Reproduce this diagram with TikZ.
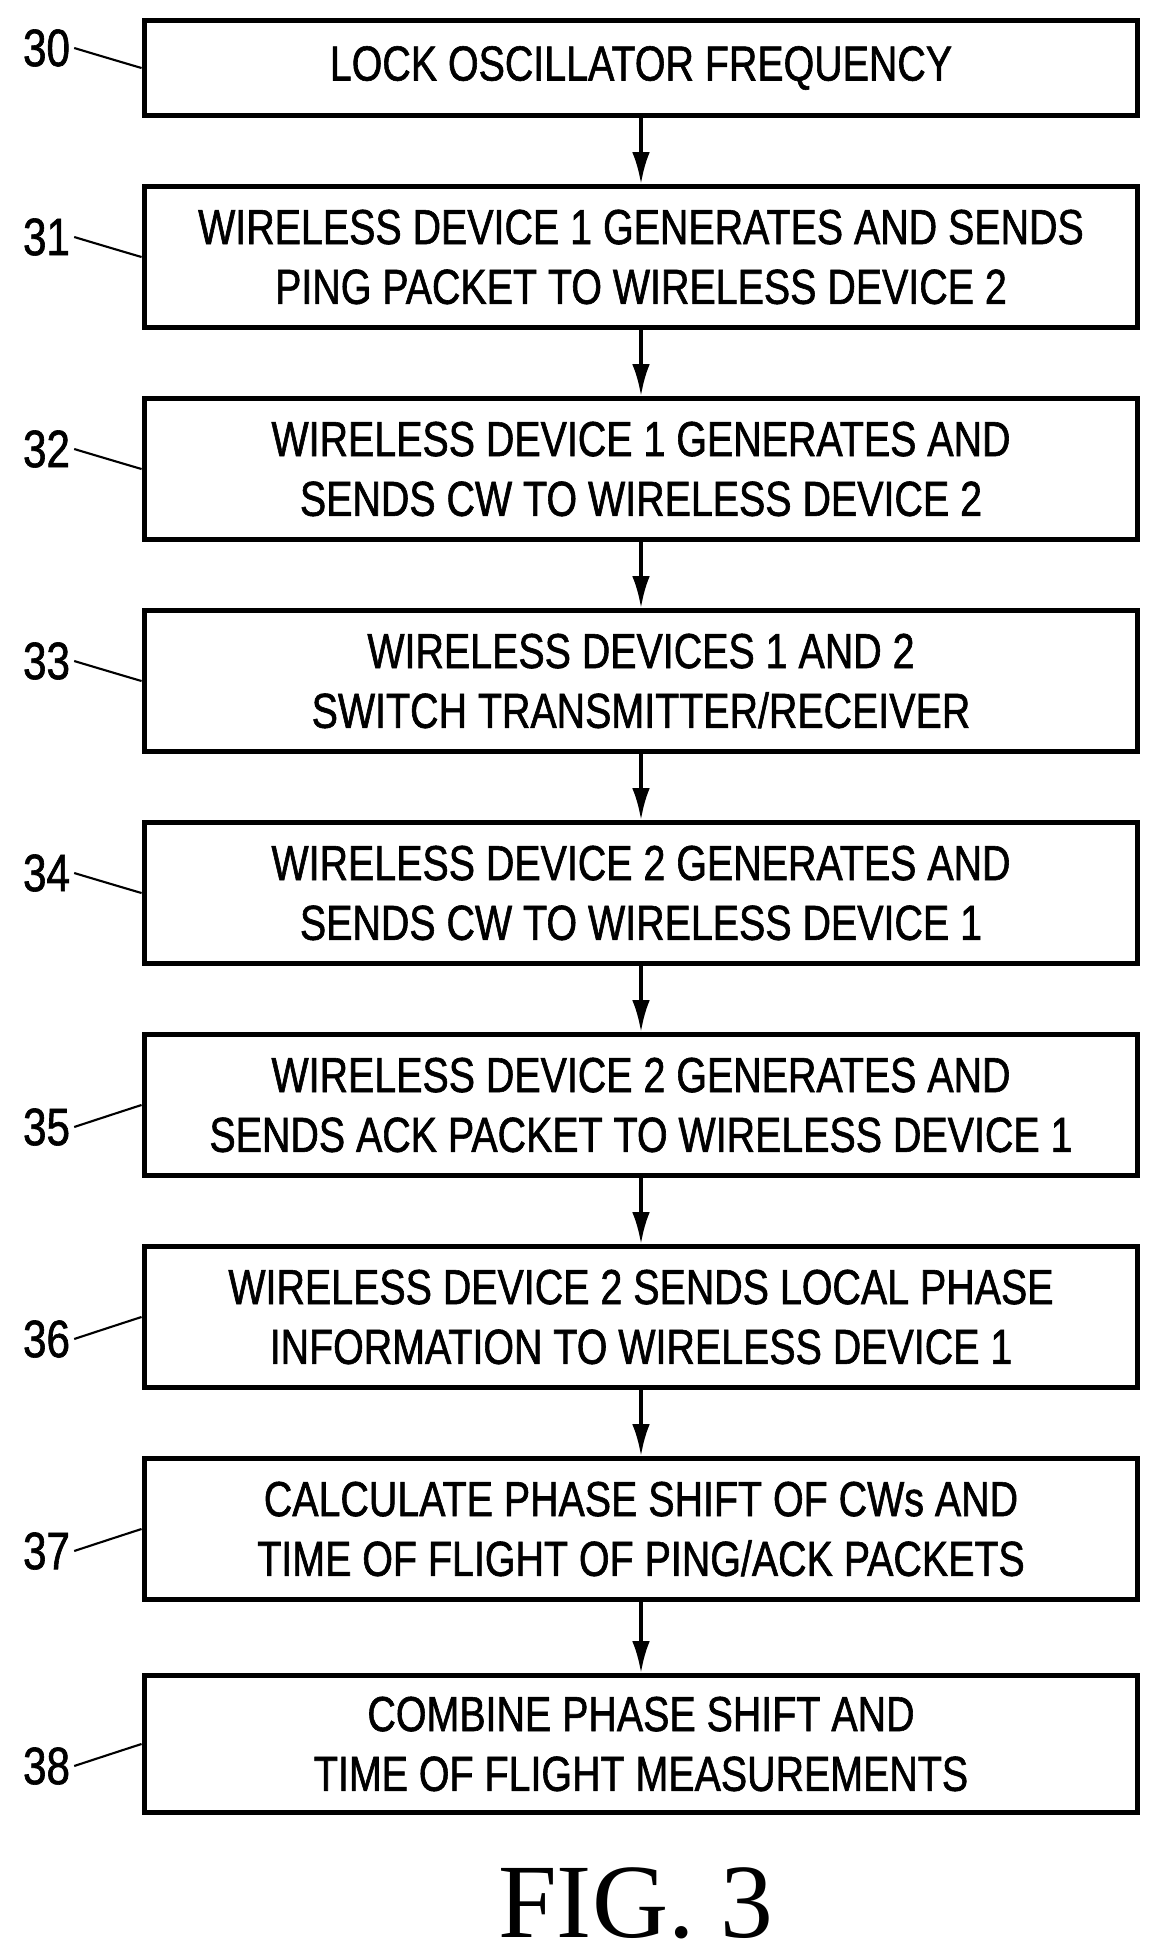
\documentclass[tikz,border=0pt]{standalone}
\usepackage{fontspec}
\setsansfont[FakeStretch=0.8,FakeBold=1.2]{Liberation Sans}
\setmainfont{Liberation Serif}
\usetikzlibrary{arrows.meta}

\begin{document}
\begin{tikzpicture}[
    x=0.01cm,y=-0.01cm,
    stepbox/.style={draw,line width=1.5pt,minimum width=9.93cm,minimum height=1.41cm,align=center,font=\sffamily\fontsize{14}{17}\selectfont,inner sep=0pt},
    reflabel/.style={font=\sffamily\fontsize{15}{17}\selectfont,inner sep=1pt},
    flow/.style={-{Latex[length=9pt,width=5pt]},line width=1pt},
    squig/.style={line width=0.6pt}
  ]
  \useasboundingbox (0,0) rectangle (1161,1957);

  \node[stepbox,minimum height=0.95cm] (s30) at (641,68) {LOCK OSCILLATOR FREQUENCY};
  \node[stepbox] (s31) at (641,257) {WIRELESS DEVICE 1 GENERATES AND SENDS\\PING PACKET TO WIRELESS DEVICE 2};
  \node[stepbox] (s32) at (641,469) {WIRELESS DEVICE 1 GENERATES AND\\SENDS CW TO WIRELESS DEVICE 2};
  \node[stepbox] (s33) at (641,681) {WIRELESS DEVICES 1 AND 2\\SWITCH TRANSMITTER/RECEIVER};
  \node[stepbox] (s34) at (641,893) {WIRELESS DEVICE 2 GENERATES AND\\SENDS CW TO WIRELESS DEVICE 1};
  \node[stepbox] (s35) at (641,1105) {WIRELESS DEVICE 2 GENERATES AND\\SENDS ACK PACKET TO WIRELESS DEVICE 1};
  \node[stepbox] (s36) at (641,1317) {WIRELESS DEVICE 2 SENDS LOCAL PHASE\\INFORMATION TO WIRELESS DEVICE 1};
  \node[stepbox] (s37) at (641,1529) {CALCULATE PHASE SHIFT OF CWs AND\\TIME OF FLIGHT OF PING/ACK PACKETS};
  \node[stepbox,minimum height=1.37cm] (s38) at (641,1744) {COMBINE PHASE SHIFT AND\\TIME OF FLIGHT MEASUREMENTS};

  \foreach \a/\b in {30/31,31/32,32/33,33/34,34/35,35/36,36/37,37/38}
    \draw[flow] (s\a) -- (s\b);

  % reference numerals
  \foreach \n in {30,31,32,33,34}{
    \node[reflabel] (n\n) at ([xshift=-0.95cm,yshift=0.2cm]s\n.west) {\n};
    \draw[squig] (n\n.east) .. controls +(0.15,0.12) and +(-0.2,0.05) .. (s\n.west);
  }
  \foreach \n in {35,36,37,38}{
    \node[reflabel] (n\n) at ([xshift=-0.95cm,yshift=-0.22cm]s\n.west) {\n};
    \draw[squig] (n\n.east) .. controls +(0.15,-0.12) and +(-0.2,-0.05) .. (s\n.west);
  }

  \node[font=\rmfamily\fontsize{30}{34}\selectfont] (fig) at (636,1903) {FIG. 3};
\end{tikzpicture}
\end{document}
